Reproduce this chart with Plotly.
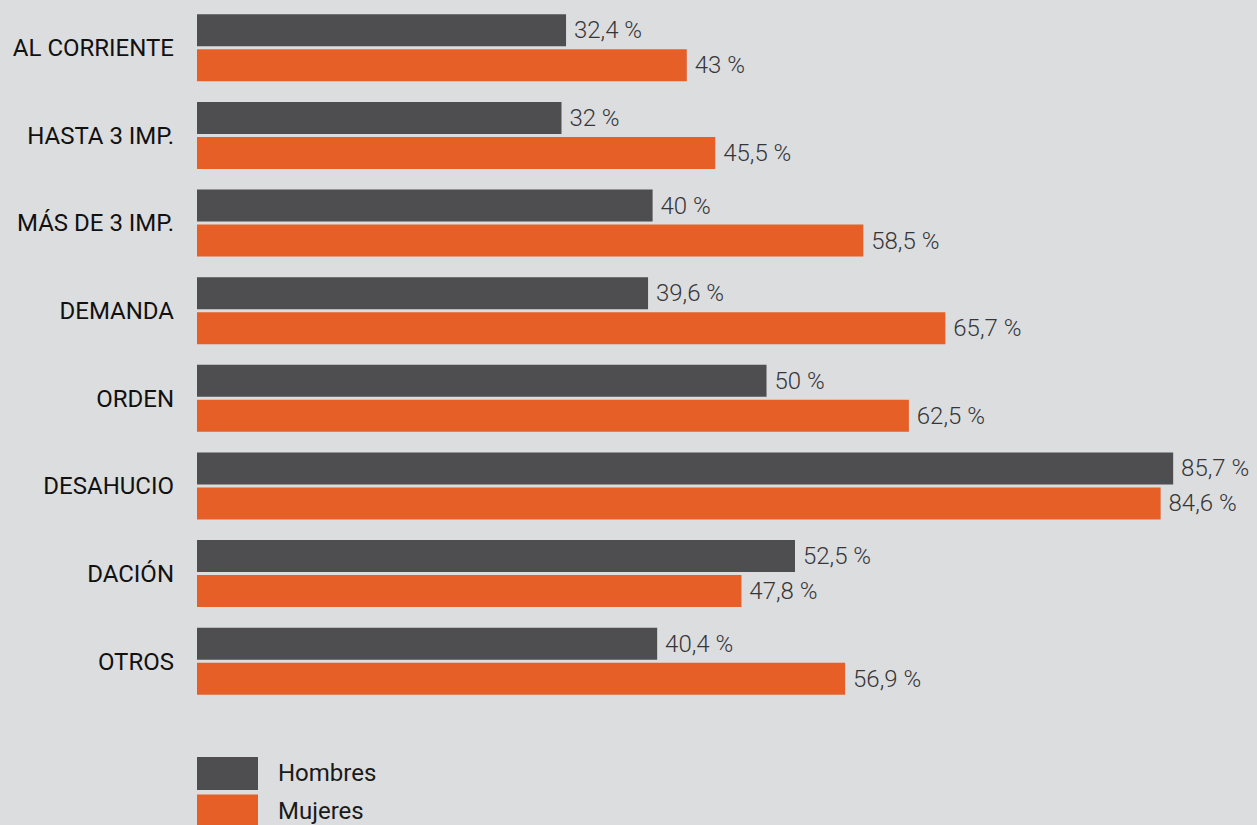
import plotly.graph_objects as go

categories = ["AL CORRIENTE", "HASTA 3 IMP.", "MÁS DE 3 IMP.", "DEMANDA", "ORDEN", "DESAHUCIO", "DACIÓN", "OTROS"]
hombres = [32.4, 32, 40, 39.6, 50, 85.7, 52.5, 40.4]
mujeres = [43, 45.5, 58.5, 65.7, 62.5, 84.6, 47.8, 56.9]
series_names = ["Hombres", "Mujeres"]
colors = ["#4e4e50", "#e65f27"]
BG = "#dcdddf"

def fmt(v):
    s = ("%g" % v).replace(".", ",")
    return "\u2009" + s + "\u00a0%"

fig = go.Figure()
for name, vals, col in zip(series_names, [hombres, mujeres], colors):
    fig.add_trace(go.Bar(
        y=categories, x=vals, name=name, orientation="h",
        marker=dict(color=col, line=dict(width=0)),
        text=[fmt(v) for v in vals], textposition="outside",
        textfont=dict(family="Roboto", size=24, color="#363638", weight=300),
        constraintext="none", cliponaxis=False, showlegend=False,
    ))

fig.update_layout(
    width=1257, height=825,
    paper_bgcolor=BG, plot_bgcolor=BG,
    margin=dict(l=197, r=0, t=4, b=120),
    barmode="group", bargap=0.2, bargroupgap=0.086,
    xaxis=dict(range=[0, 93.06], visible=False, fixedrange=True),
    yaxis=dict(autorange="reversed", showgrid=False, zeroline=False, showline=False,
               ticks="", ticklabelstandoff=22,
               tickfont=dict(family="Roboto", size=24, color="#111111")),
    font=dict(family="Roboto"),
)

def py(p):
    # pixel y -> paper coordinate (plot area spans y 4..705)
    return (705 - p) / 701

leg_y = [773.5, 811]
for name, col, yc in zip(series_names, colors, leg_y):
    fig.add_shape(type="rect", xref="paper", yref="paper",
                  x0=0, x1=61/1060, y0=py(yc + 16.5), y1=py(yc - 16.5),
                  fillcolor=col, line=dict(width=0))
    fig.add_annotation(xref="paper", yref="paper", x=79/1060, y=py(yc),
                       text=name, showarrow=False, xanchor="left", yanchor="middle",
                       font=dict(family="Roboto", size=24, color="#1a1a1a"))

fig.write_html("out.html")
